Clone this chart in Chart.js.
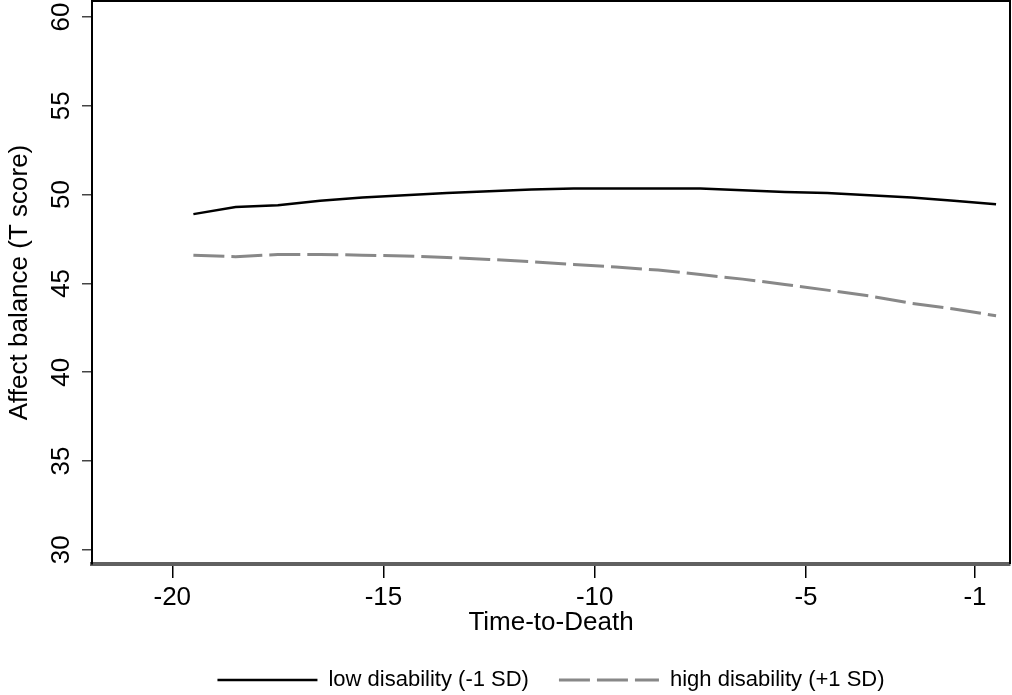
<!DOCTYPE html>
<html>
<head>
<meta charset="utf-8">
<script src="https://cdn.jsdelivr.net/npm/chart.js@4.4.1/dist/chart.umd.min.js"></script>
<style>
  html, body { margin: 0; padding: 0; background: #ffffff; }
  canvas { display: block; }
</style>
</head>
<body>
<canvas id="grafico" width="1012" height="695"></canvas>
<script>
// Datos del gráfico
const tiempoMuerte = [-19.5, -18.5, -17.5, -16.5, -15.5, -14.5, -13.5, -12.5, -11.5, -10.5,
                      -9.5, -8.5, -7.5, -6.5, -5.5, -4.5, -3.5, -2.5, -1.5, -0.5];
const bajaDiscapacidad = [48.9, 49.3, 49.4, 49.65, 49.83, 49.96, 50.09, 50.19, 50.28, 50.34,
                          50.34, 50.34, 50.34, 50.24, 50.15, 50.09, 49.96, 49.83, 49.65, 49.46];
const altaDiscapacidad = [46.59, 46.5, 46.63, 46.63, 46.59, 46.54, 46.46, 46.35, 46.22, 46.07,
                          45.92, 45.75, 45.5, 45.24, 44.94, 44.62, 44.29, 43.88, 43.56, 43.18];
const ticksX = [-20, -15, -10, -5, -1];
const ticksY = [30, 35, 40, 45, 50, 55, 60];
const etiquetasSeries = ['low disability (-1 SD)', 'high disability (+1 SD)'];

const fuente = "'Liberation Sans', Arial, sans-serif";

// Marco superior y derecho del área del gráfico
const marco = {
    id: 'marco',
    afterDraw(chart) {
        const {ctx, chartArea: a} = chart;
        ctx.save();
        ctx.strokeStyle = '#000000';
        ctx.lineWidth = 2;
        ctx.beginPath();
        ctx.moveTo(a.left, a.top);
        ctx.lineTo(a.right, a.top);
        ctx.lineTo(a.right, a.bottom);
        ctx.stroke();
        ctx.restore();
    }
};

const ctx = document.getElementById('grafico').getContext('2d');

new Chart(ctx, {
    type: 'line',
    data: {
        datasets: [{
            label: etiquetasSeries[0],
            data: tiempoMuerte.map((t, i) => ({x: t, y: bajaDiscapacidad[i]})),
            borderColor: '#000000',
            backgroundColor: '#000000',
            borderWidth: 2.5,
            pointRadius: 0,
            pointStyle: 'line',
            tension: 0,
            fill: false
        }, {
            label: etiquetasSeries[1],
            data: tiempoMuerte.map((t, i) => ({x: t, y: altaDiscapacidad[i]})),
            borderColor: '#888888',
            backgroundColor: '#888888',
            borderWidth: 3,
            borderDash: [31, 7],
            pointRadius: 0,
            pointStyle: 'line',
            tension: 0,
            fill: false
        }]
    },
    options: {
        responsive: false,
        animation: false,
        layout: { padding: { top: 1, right: 2, bottom: -6, left: 0 } },
        plugins: {
            tooltip: { enabled: false },
            legend: {
                position: 'bottom',
                fullSize: false,
                labels: {
                    usePointStyle: true,
                    pointStyle: 'line',
                    pointStyleWidth: 100,
                    boxWidth: 100,
                    padding: 30,
                    color: '#000000',
                    font: { family: fuente, size: 22 },
                    // la línea de la leyenda toma el guion de cada serie
                    generateLabels: (chart) => {
                        const items = Chart.defaults.plugins.legend.labels.generateLabels(chart);
                        items.forEach(item => {
                            const ds = chart.data.datasets[item.datasetIndex];
                            item.lineDash = ds.borderDash || [];
                            item.strokeStyle = ds.borderColor;
                            item.lineWidth = ds.borderWidth;
                        });
                        return items;
                    }
                }
            }
        },
        scales: {
            x: {
                type: 'linear',
                min: -21.9,
                max: -0.17,
                afterBuildTicks: (scale) => { scale.ticks = ticksX.map(v => ({value: v})); },
                afterFit: (scale) => {
                    scale.height = 75;
                    scale.paddingLeft = 0;
                    scale.paddingRight = 0;
                },
                border: { display: true, color: '#606060', width: 4 },
                grid: { drawOnChartArea: false, drawTicks: true, tickLength: 14, color: '#000000', lineWidth: 1.5 },
                ticks: { color: '#000000', padding: 4, font: { family: fuente, size: 26 } },
                title: {
                    display: true,
                    text: 'Time-to-Death',
                    color: '#000000',
                    padding: { top: 0, bottom: 1 },
                    font: { family: fuente, size: 26 }
                }
            },
            y: {
                min: 29.2,
                max: 60.9,
                afterBuildTicks: (scale) => { scale.ticks = ticksY.map(v => ({value: v})); },
                afterFit: (scale) => {
                    scale.width = 92;
                    scale.paddingTop = 0;
                    scale.paddingBottom = 0;
                },
                border: { display: true, color: '#000000', width: 2 },
                grid: { drawOnChartArea: false, drawTicks: true, tickLength: 10, color: '#444444', lineWidth: 1.5 },
                ticks: {
                    color: '#000000',
                    padding: 6,
                    minRotation: 90,
                    maxRotation: 90,
                    crossAlign: 'center',
                    font: { family: fuente, size: 26 }
                },
                title: {
                    display: true,
                    text: 'Affect balance (T score)',
                    color: '#000000',
                    padding: { top: 4, bottom: 0 },
                    font: { family: fuente, size: 26 }
                }
            }
        }
    },
    plugins: [marco]
});
</script>
</body>
</html>
